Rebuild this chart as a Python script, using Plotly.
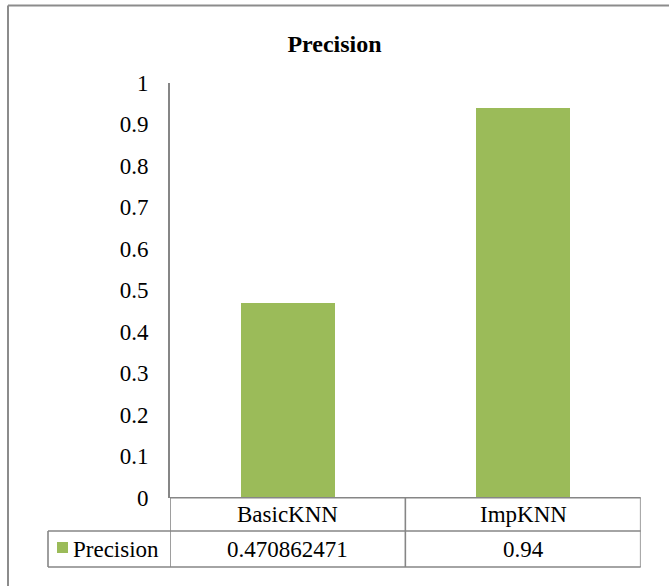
import plotly.graph_objects as go

# Data
categories = ["BasicKNN", "ImpKNN"]
precision = [0.470862471, 0.94]
series_name = "Precision"
y_ticks = [0, 0.1, 0.2, 0.3, 0.4, 0.5, 0.6, 0.7, 0.8, 0.9, 1]
y_tick_labels = ["0", "0.1", "0.2", "0.3", "0.4", "0.5", "0.6", "0.7", "0.8", "0.9", "1"]

W, H = 669, 586
BAR = "#9BBB59"
LINE = "#868686"
FONT = "Liberation Serif"
TXT = 23

# plot area in pixels
px_left, px_right = 170, 640.7
px_top, px_bottom = 82.8, 497.7
# data table rows / legend cell (pixels)
row1_bottom, row2_bottom = 531, 567
legend_left = 48


def fx(px):
    return px / W


def fy(py):
    return 1 - py / H


fig = go.Figure()
fig.add_trace(go.Bar(
    x=list(range(len(categories))), y=precision, name=series_name,
    marker=dict(color=BAR, line=dict(width=0)), width=0.4,
    showlegend=False, hoverinfo="x+y",
))

shapes = []
# outer chart frame (runs off the right and bottom edges)
shapes.append(dict(type="line", xref="paper", yref="paper",
                   x0=fx(8), x1=fx(8), y0=0, y1=fy(5.5),
                   line=dict(color="#8c8c8c", width=2)))
shapes.append(dict(type="line", xref="paper", yref="paper",
                   x0=fx(8), x1=1, y0=fy(5.5), y1=fy(5.5),
                   line=dict(color="#8c8c8c", width=2)))

# data table grid lines: horizontal
for py, x0 in [(px_bottom, px_left), (row1_bottom, legend_left), (row2_bottom, legend_left)]:
    shapes.append(dict(type="line", xref="paper", yref="paper",
                       x0=fx(x0), x1=fx(px_right), y0=fy(py), y1=fy(py),
                       line=dict(color=LINE, width=1.6)))
# vertical grid lines at category boundaries
n = len(categories)
for b in [k - 0.5 for k in range(n + 1)]:
    shapes.append(dict(type="line", xref="x", yref="paper",
                       x0=b, x1=b, y0=fy(row2_bottom), y1=fy(px_bottom),
                       line=dict(color=LINE, width=1.6)))
# legend cell left edge
shapes.append(dict(type="line", xref="paper", yref="paper",
                   x0=fx(legend_left), x1=fx(legend_left),
                   y0=fy(row2_bottom), y1=fy(row1_bottom),
                   line=dict(color=LINE, width=1.6)))
# legend swatch
shapes.append(dict(type="rect", xref="paper", yref="paper",
                   x0=fx(57), x1=fx(68), y0=fy(553), y1=fy(542),
                   fillcolor=BAR, line=dict(width=0)))

annotations = []
row1_mid = (px_bottom + row1_bottom) / 2
row2_mid = (row1_bottom + row2_bottom) / 2
for i, (cat, val) in enumerate(zip(categories, precision)):
    annotations.append(dict(x=i, y=fy(row1_mid), xref="x", yref="paper",
                            text=cat, showarrow=False,
                            font=dict(family=FONT, size=TXT, color="black"),
                            xanchor="center", yanchor="middle"))
    annotations.append(dict(x=i, y=fy(row2_mid), xref="x", yref="paper",
                            text=f"{val:.9g}", showarrow=False,
                            font=dict(family=FONT, size=TXT, color="black"),
                            xanchor="center", yanchor="middle"))
annotations.append(dict(x=fx(71), y=fy(row2_mid), xref="paper", yref="paper",
                        text=series_name, showarrow=False,
                        font=dict(family=FONT, size=TXT, color="black"),
                        xanchor="left", yanchor="middle"))

fig.update_layout(
    width=W, height=H, autosize=False,
    margin=dict(l=0, r=0, t=0, b=0, pad=0, autoexpand=False),
    paper_bgcolor="white", plot_bgcolor="white",
    title=dict(text="<b>Precision</b>", x=0.5, xanchor="center",
               y=fy(44), yanchor="middle",
               font=dict(family=FONT, size=24, color="black")),
    xaxis=dict(domain=[fx(px_left), fx(px_right)], range=[-0.5, n - 0.5],
               showticklabels=False, showgrid=False, zeroline=False,
               showline=False, ticks=""),
    yaxis=dict(domain=[fy(px_bottom), fy(px_top)], range=[0, 1],
               tickvals=y_ticks, ticktext=y_tick_labels,
               tickfont=dict(family=FONT, size=TXT, color="black"),
               showgrid=False, zeroline=False, showline=True,
               linecolor=LINE, linewidth=1.6, ticks="",
               ticklabelstandoff=15),
    shapes=shapes, annotations=annotations,
    bargap=0,
)

fig.write_html("out.html")
